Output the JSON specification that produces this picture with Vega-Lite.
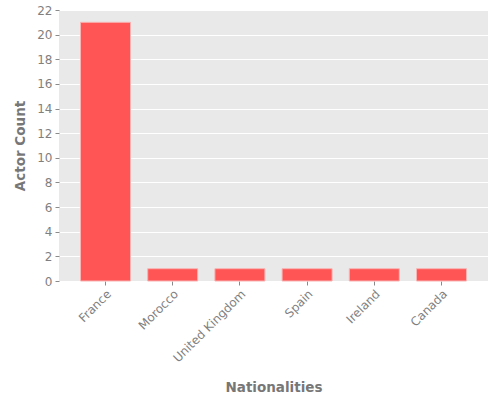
{
  "$schema": "https://vega.github.io/schema/vega-lite/v6.json",
  "width": 429,
  "height": 271,
  "autosize": {"type": "none"},
  "padding": {"left": 59, "top": 10, "right": 12, "bottom": 119},
  "data": {
    "values": [
      {"nationality": "France", "count": 21},
      {"nationality": "Morocco", "count": 1},
      {"nationality": "United Kingdom", "count": 1},
      {"nationality": "Spain", "count": 1},
      {"nationality": "Ireland", "count": 1},
      {"nationality": "Canada", "count": 1}
    ]
  },
  "mark": {"type": "bar", "color": "#FF5555", "stroke": "#F9B3B3", "strokeWidth": 1},
  "encoding": {
    "x": {
      "field": "nationality",
      "type": "nominal",
      "sort": null,
      "title": "Nationalities",
      "scale": {"paddingInner": 0.256, "paddingOuter": 0.32},
      "axis": {
        "labelAngle": -45,
        "labelAlign": "right",
        "labelBaseline": "top",
        "grid": false,
        "titlePadding": 17
      }
    },
    "y": {
      "field": "count",
      "type": "quantitative",
      "title": "Actor Count",
      "scale": {"domain": [0, 22], "nice": false},
      "axis": {"values": [0, 2, 4, 6, 8, 10, 12, 14, 16, 18, 20, 22], "titlePadding": 9}
    }
  },
  "config": {
    "font": "DejaVu Sans",
    "view": {"fill": "#E9E9E9", "stroke": null},
    "axis": {
      "domain": false,
      "gridColor": "#FFFFFF",
      "gridWidth": 1,
      "tickColor": "#8A8A8A",
      "tickSize": 4,
      "labelColor": "#7F7F7F",
      "labelFontSize": 12,
      "labelPadding": 3,
      "titleColor": "#777777",
      "titleFontSize": 13.5,
      "titleFontWeight": "bold"
    }
  }
}
